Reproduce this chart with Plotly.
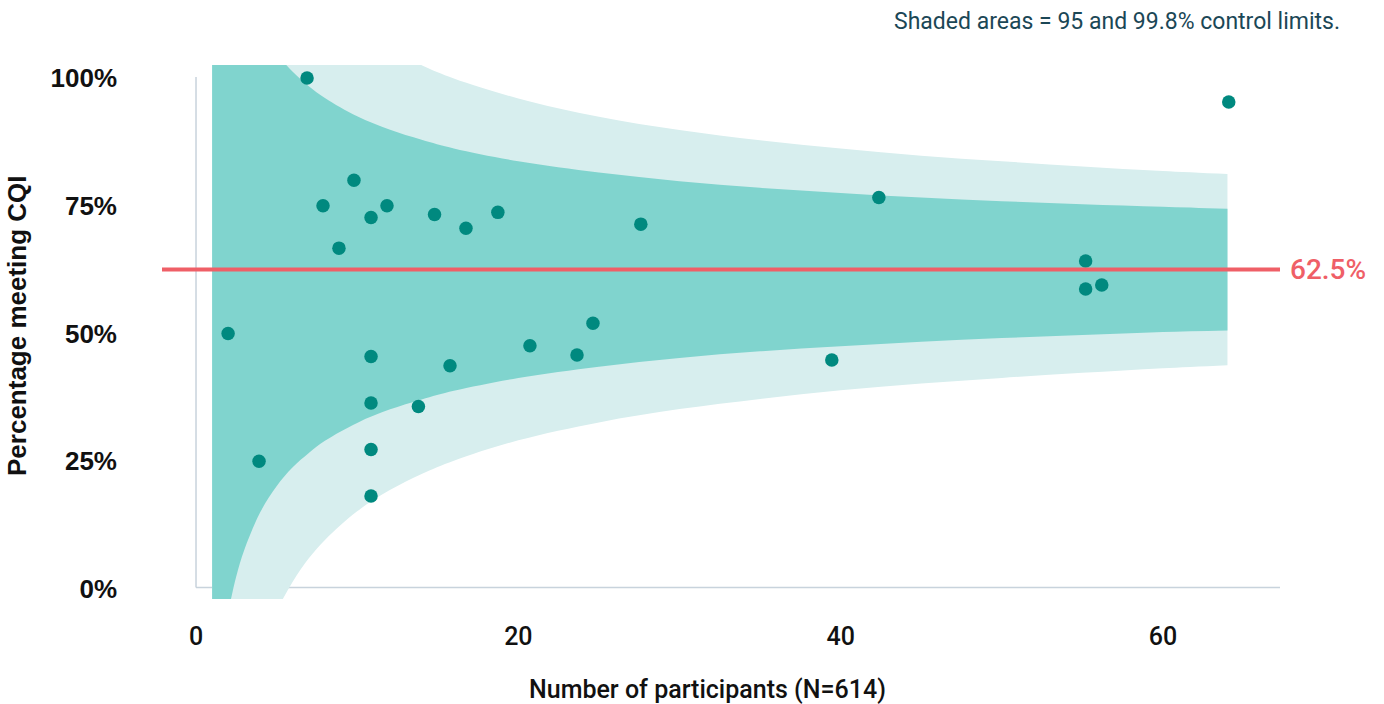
import plotly.graph_objects as go

# Participants (n) and proportion meeting CQI for each unit
n_participants = [1.99, 3.91, 6.89, 7.88, 8.87, 9.8, 10.86, 10.86, 10.86, 10.86, 10.86, 11.85, 13.8,
                  14.8, 15.76, 16.75, 18.73, 20.72, 23.64, 24.63, 27.6,
                  39.45, 42.37, 55.2, 55.2, 56.2, 64.08]
pct_meeting = [0.50, 0.25, 1.00, 0.75, 0.667, 0.80, 0.727, 0.455, 0.364, 0.273, 0.182, 0.75,
               0.357, 0.733, 0.437, 0.706, 0.737, 0.476, 0.458, 0.52, 0.714,
               0.448, 0.766, 0.642, 0.587, 0.595, 0.953]

mean_pct = 0.625

# Control limit curves
limit_n = [1, 1.25, 1.5, 1.75, 2, 2.5, 3, 4, 5, 6, 7, 8, 10, 12, 14, 16, 20, 25, 30, 35, 40, 45, 50, 55, 60, 64]
upper95 = [1.574, 1.474, 1.400, 1.342, 1.296, 1.225, 1.173, 1.100, 1.049, 1.012, 0.984, 0.961, 0.925,
           0.899, 0.879, 0.862, 0.837, 0.815, 0.798, 0.785, 0.775, 0.766, 0.759, 0.753, 0.748, 0.744]
lower95 = [-0.324, -0.224, -0.150, -0.092, -0.046, 0.025, 0.077, 0.151, 0.201, 0.238, 0.266, 0.290, 0.325,
           0.351, 0.371, 0.388, 0.413, 0.435, 0.452, 0.465, 0.475, 0.484, 0.491, 0.497, 0.503, 0.506]
upper998 = [2.121, 1.963, 1.846, 1.756, 1.683, 1.571, 1.489, 1.373, 1.294, 1.236, 1.190, 1.154, 1.098,
            1.057, 1.025, 0.999, 0.960, 0.924, 0.898, 0.878, 0.862, 0.848, 0.837, 0.827, 0.818, 0.812]
lower998 = [-0.871, -0.713, -0.596, -0.506, -0.433, -0.321, -0.239, -0.123, -0.044, 0.014, 0.060, 0.096, 0.152,
            0.193, 0.225, 0.251, 0.291, 0.326, 0.352, 0.372, 0.389, 0.402, 0.413, 0.423, 0.432, 0.438]

x_ticks = [0, 20, 40, 60]
y_ticks = [0, 0.25, 0.5, 0.75, 1.0]
y_tick_text = ["0%", "25%", "50%", "75%", "100%"]

TEAL_DOT = "#00897F"
BAND_IN = "#80D4CE"
BAND_OUT = "#D7EEEE"
RED = "#EF5F67"
AXIS_LINE = "#C8D3DC"
FONT = "Roboto"
ARIAL = "Liberation Sans"

fig = go.Figure()

def band(lower, upper, color):
    fig.add_trace(go.Scatter(x=limit_n, y=lower, mode="lines",
                             line=dict(width=0, shape="spline", color=color),
                             hoverinfo="skip", showlegend=False))
    fig.add_trace(go.Scatter(x=limit_n, y=upper, mode="lines", fill="tonexty",
                             fillcolor=color, line=dict(width=0, shape="spline", color=color),
                             hoverinfo="skip", showlegend=False))

band(lower998, upper998, BAND_OUT)
band(lower95, upper95, BAND_IN)

# axis lines
fig.add_shape(type="line", xref="x", yref="y", x0=0, x1=0, y0=0.003, y1=1.002,
              line=dict(color=AXIS_LINE, width=1.5), layer="below")
fig.add_shape(type="line", xref="x", yref="y", x0=0, x1=67.26, y0=0.003, y1=0.003,
              line=dict(color=AXIS_LINE, width=1.5), layer="below")

# mean line
fig.add_shape(type="line", xref="paper", yref="y", x0=0, x1=1, y0=mean_pct, y1=mean_pct,
              line=dict(color=RED, width=4), layer="above")

# points
fig.add_trace(go.Scatter(
    x=n_participants, y=pct_meeting, mode="markers",
    marker=dict(color=TEAL_DOT, size=13.5, line=dict(width=0)),
    showlegend=False, cliponaxis=False))

fig.add_annotation(x=1, xref="paper", xshift=8, y=mean_pct, yref="y", text="62.5%",
                   showarrow=False, xanchor="left", yanchor="middle",
                   font=dict(family=FONT, size=28, color=RED, weight=500))

fig.add_annotation(x=1, xref="paper", xshift=62, y=1, yref="paper", yshift=44,
                   text="Shaded areas = 95 and 99.8% control limits.",
                   showarrow=False, xanchor="right", yanchor="middle",
                   font=dict(family=FONT, size=23, color="#1B4756"))

fig.add_annotation(x=0.4875, xref="paper", y=0, yref="paper", yshift=-90,
                   text="Number of participants (N=614)", showarrow=False,
                   xanchor="center", yanchor="middle",
                   font=dict(family=FONT, size=25, color="#111111", weight=500))

fig.add_annotation(x=0, xref="paper", xshift=-145, y=0.5, yref="paper", yshift=6,
                   text="Percentage meeting CQI", showarrow=False, textangle=-90,
                   xanchor="center", yanchor="middle",
                   font=dict(family=ARIAL, size=26, color="#111111", weight="bold"))

fig.update_layout(
    width=1384, height=704,
    margin=dict(l=162, r=104, t=65, b=105),
    plot_bgcolor="white", paper_bgcolor="white",
    xaxis=dict(range=[-2.11, 67.26], tickvals=x_ticks, showgrid=False, zeroline=False,
               showline=False, ticks="", ticklabelstandoff=20,
               tickfont=dict(family=FONT, size=25, color="#111111", weight=500)),
    yaxis=dict(range=[-0.0196, 1.0254], tickvals=y_ticks, ticktext=y_tick_text,
               showgrid=False, zeroline=False, showline=False, ticks="",
               ticklabelstandoff=44,
               tickfont=dict(family=ARIAL, size=26, color="#111111", weight="bold")),
)

fig.write_html("out.html")
